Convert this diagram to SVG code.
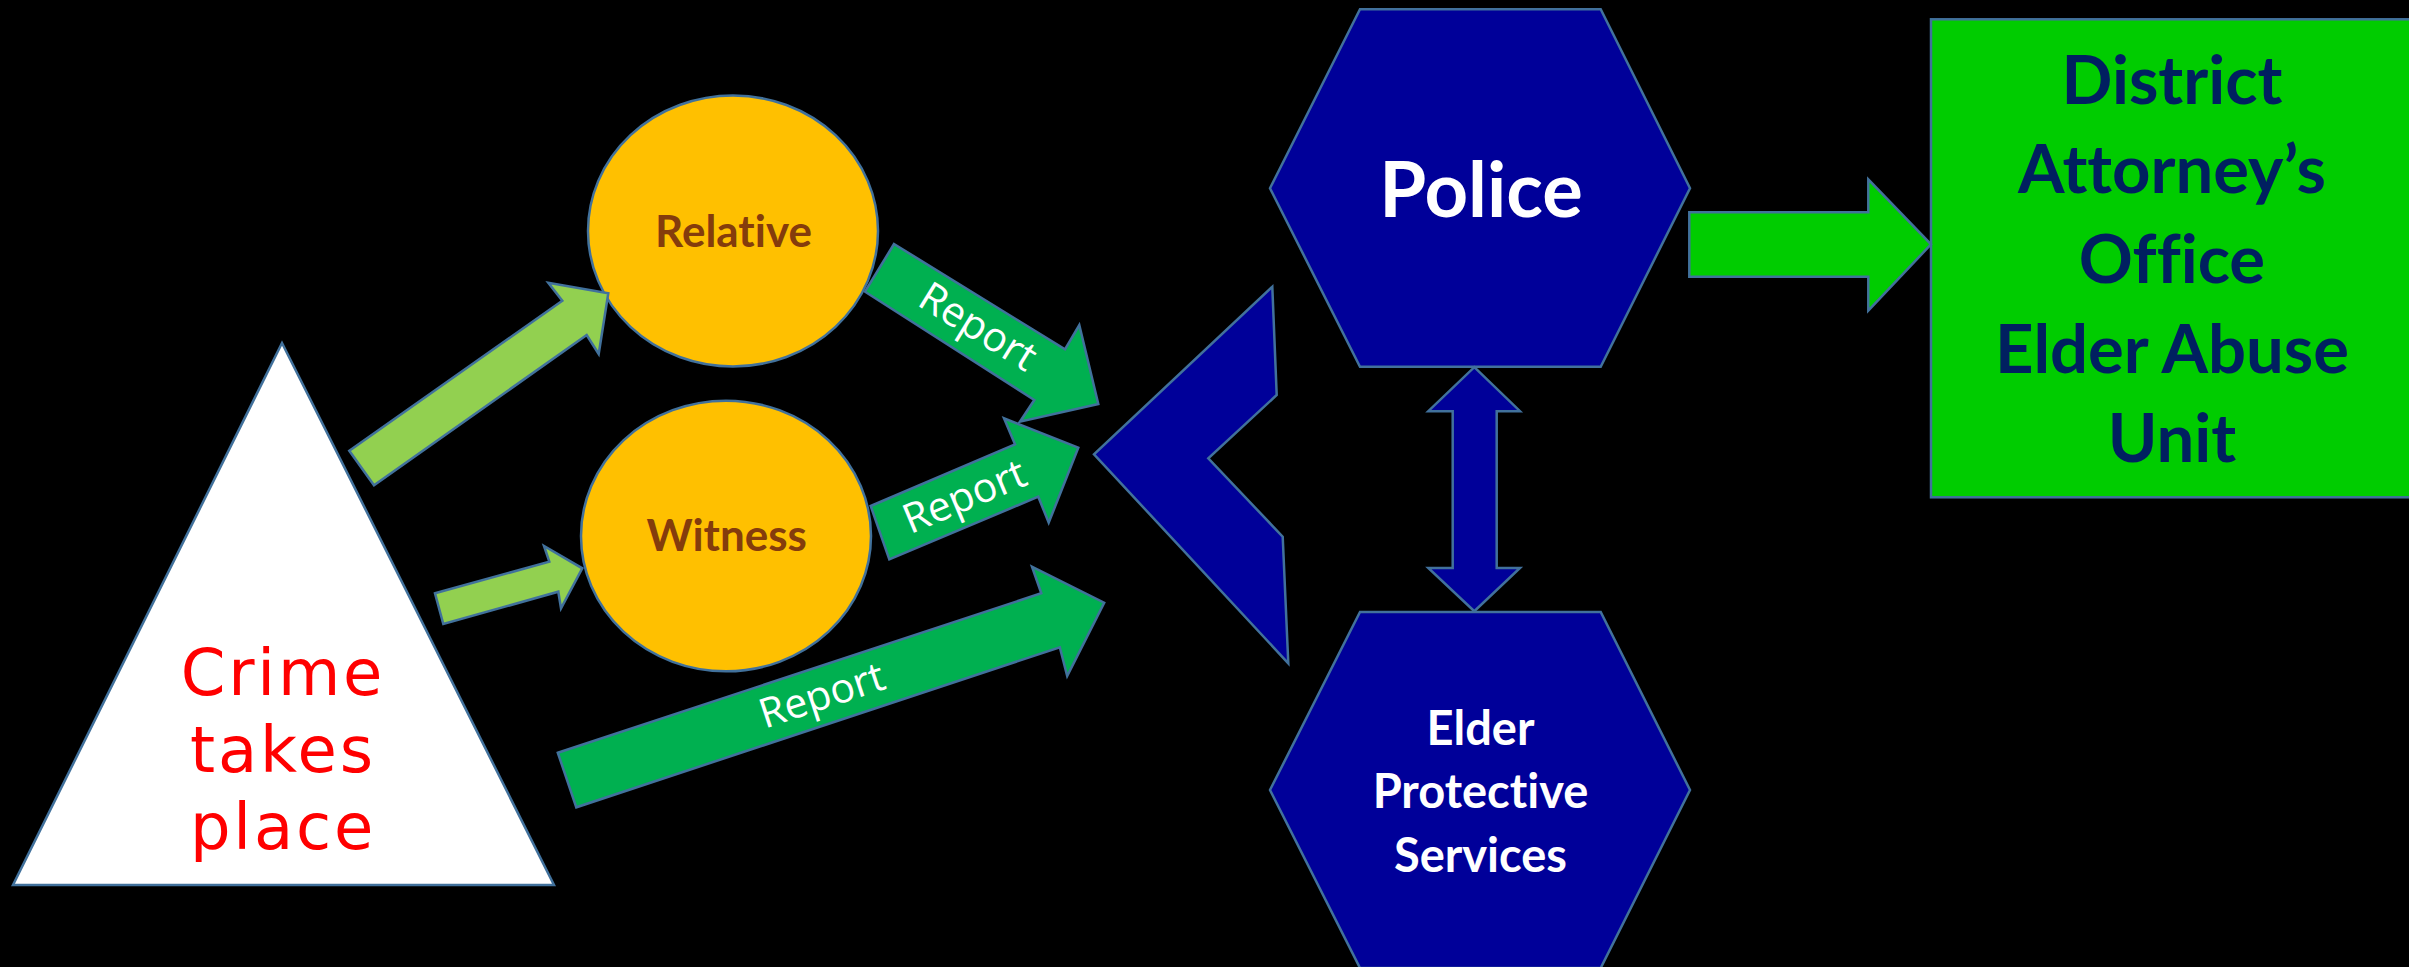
<svg xmlns="http://www.w3.org/2000/svg" width="2409" height="967" viewBox="0 0 2409 967">
  <style>
    text { font-variant-ligatures: none; font-feature-settings: "liga" 0; }
    .edge { stroke: #41719C; stroke-width: 2.5; stroke-linejoin: miter; }
    .feed { fill: #92D050; }
    .report { fill: #00B050; }
    .agency { fill: #000099; }
    .da { fill: #00CC00; }
    .person { fill: #FFC000; }
    .crime-label { font-family: "DejaVu Sans", Verdana, sans-serif; font-size: 64px; fill: #FF0000; text-anchor: middle; letter-spacing: 2.8px; }
    .person-label { font-family: Lato, "Open Sans", sans-serif; font-weight: bold; font-size: 44px; fill: #843C0C; text-anchor: middle; }
    .report-label { font-family: "Open Sans", "Noto Sans", sans-serif; font-size: 41px; fill: #FFFFFF; text-anchor: middle; }
    .agency-label { font-family: Lato, "Open Sans", sans-serif; font-weight: bold; fill: #FFFFFF; text-anchor: middle; }
    .da-label { font-family: Lato, "Open Sans", sans-serif; font-weight: bold; font-size: 67px; fill: #002060; text-anchor: middle; }
  </style>

  <rect x="0" y="0" width="2409" height="967" fill="#000000"/>

  <!-- Origin of the incident -->
  <g id="crime">
    <polygon class="edge" fill="#FFFFFF" points="282,343 13,885 554,885"/>
    <text class="crime-label" x="283" y="695">Crime</text>
    <text class="crime-label" x="283" y="772">takes</text>
    <text class="crime-label" x="283" y="849">place</text>
  </g>

  <!-- People who learn of it -->
  <g id="relative">
    <ellipse class="person edge" cx="733" cy="231" rx="145" ry="135.5"/>
    <text class="person-label" x="733.5" y="247">Relative</text>
  </g>
  <g id="witness">
    <ellipse class="person edge" cx="726" cy="536" rx="145" ry="135.3"/>
    <text class="person-label" x="726.7" y="550.7">Witness</text>
  </g>

  <!-- Agencies that receive reports -->
  <g id="intake">
    <polygon class="agency edge" points="1272.3,286.7 1276.7,395 1208.3,458.3 1282.7,536.7 1288.3,663.3 1094,454.3"/>
  </g>
  <g id="police">
    <polygon class="agency edge" points="1360,9.3 1600.7,9.3 1690,188.3 1600.7,366.7 1360,366.7 1270,188.3"/>
    <text class="agency-label" x="1481" y="216.7" font-size="76">Police</text>
  </g>
  <g id="aps">
    <polygon class="agency edge" points="1360,612 1600.7,612 1690,790 1600.7,968 1360,968 1270,790"/>
    <text class="agency-label" x="1480.5" y="744.8" font-size="47">Elder</text>
    <text class="agency-label" x="1480.5" y="808" font-size="47">Protective</text>
    <text class="agency-label" x="1480.5" y="872" font-size="47">Services</text>
  </g>

  <!-- Prosecuting office -->
  <g id="district-attorney">
    <rect class="da edge" x="1931" y="19.3" width="482" height="478"/>
    <text class="da-label" x="2172" y="104">District</text>
    <text class="da-label" x="2172" y="193.3">Attorney’s</text>
    <text class="da-label" x="2172" y="283.3">Office</text>
    <text class="da-label" x="2172" y="372.7">Elder Abuse</text>
    <text class="da-label" x="2172" y="461.7">Unit</text>
  </g>

  <!-- Block arrows between the nodes -->
  <g id="connectors">
    <polygon class="feed edge" points="349.3,450.7 562.3,300.7 548.3,282.7 608.3,293.3 598.7,354 586.7,335 374,485.3"/>
    <polygon class="feed edge" points="435,593.3 549.3,561.7 544,546 582.3,568.3 561,608.3 558.3,591.7 443.3,624"/>

    <polygon class="report edge" points="894,244 1065,349.3 1079.3,325 1098.3,404 1020,421.7 1034.3,400 865,291.7"/>
    <text class="report-label" transform="translate(976,330) rotate(31.6)" x="0" y="10">Report</text>

    <polygon class="report edge" points="870.7,506 1015,444.3 1004,418.3 1078.3,447.7 1048.7,522.7 1038.3,496.7 889.3,559.3"/>
    <text class="report-label" transform="translate(966,500) rotate(-22.8)" x="0" y="10">Report</text>

    <polygon class="report edge" points="557.8,752.7 1041.3,593.3 1032,566.7 1104.2,602.7 1067.2,676 1059.8,647.3 576.3,807.3"/>
    <text class="report-label" transform="translate(823,699) rotate(-18.2)" x="0" y="10">Report</text>

    <polygon class="agency edge" points="1474.3,367.2 1520,411.2 1496.7,411.2 1496.7,568 1520,568 1474.3,611.2 1428.3,568 1452.7,568 1452.7,411.2 1428.3,411.2"/>

    <polygon class="da edge" points="1689.3,212.3 1868.3,212.3 1868.3,179.3 1931,244.3 1868.3,310.7 1868.3,276.7 1689.3,276.7"/>
  </g>
</svg>
